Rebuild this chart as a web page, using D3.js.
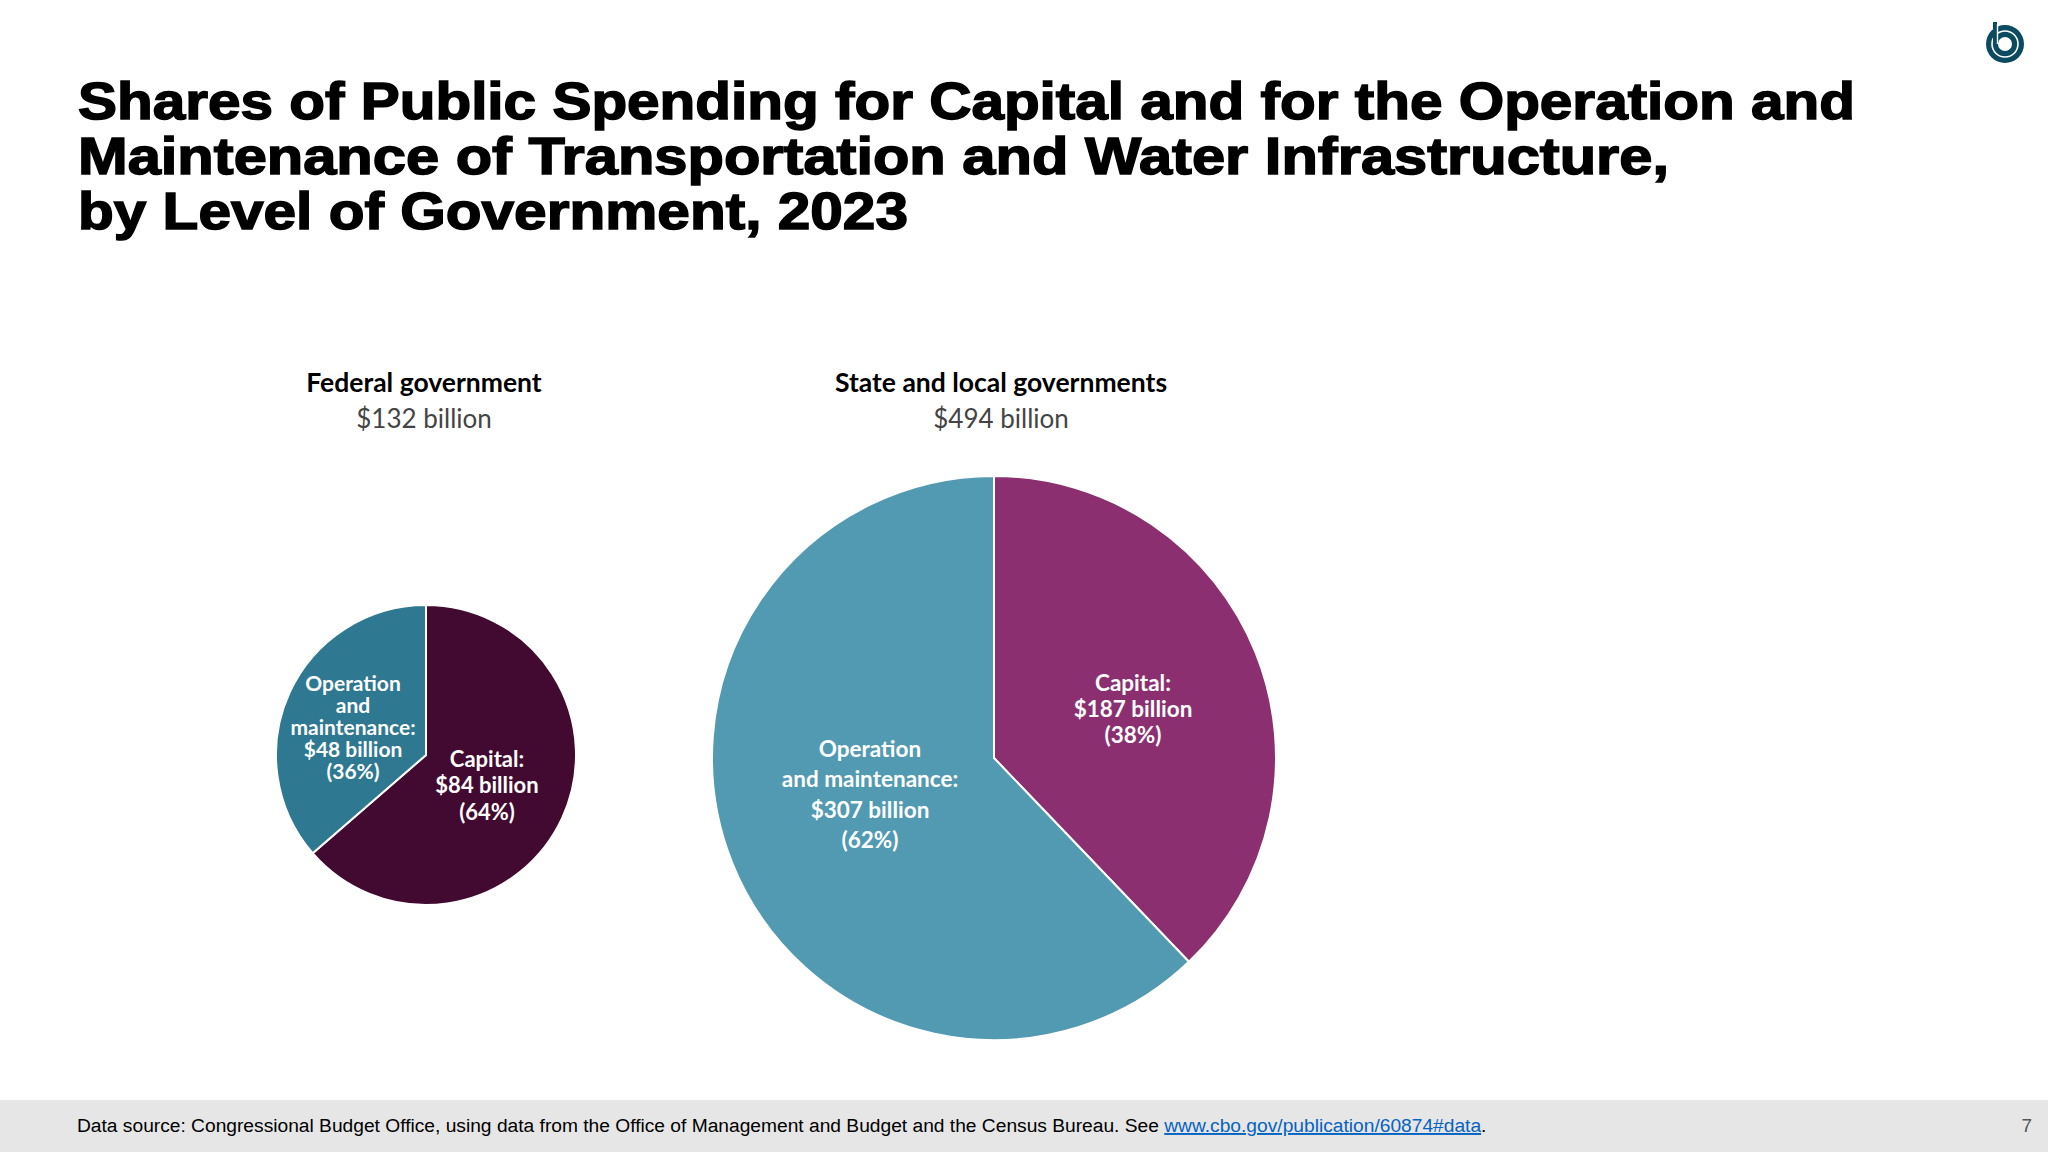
<!DOCTYPE html>
<html lang="en">
<head>
  <meta charset="UTF-8">
  <title>Shares of Public Spending, 2023</title>
  <style>
    body { margin: 0; background: #fff; }
    svg { display: block; }
  </style>
</head>
<body>
  <svg id="chart"></svg>
  <script src="https://cdn.jsdelivr.net/npm/d3@7"></script>
  <script>
    // data
    const groups = ["Federal government", "State and local governments"];
    const totals = [132, 494];
    const categories = ["Capital", "Operation and maintenance"];
    const capitalValues = [84, 187];
    const omValues = [48, 307];
    const capitalShares = [64, 38];
    const omShares = [36, 62];

    const titleLines = [
      "Shares of Public Spending for Capital and for the Operation and",
      "Maintenance of Transportation and Water Infrastructure,",
      "by Level of Government, 2023"
    ];
    // right edge of each title line on the slide (Arial Black is wider than what we have)
    const titleEnds = [1855, 1669, 908];

    var w = 2048, h = 1152;
    var svg = d3.select("#chart").attr("width", w).attr("height", h);

    // ---- title
    svg.append("g").selectAll("text")
      .data(titleLines)
      .enter()
      .append("text")
        .attr("x", 78)
        .attr("y", (d, i) => 119 + i * 55)
        .attr("font-family", "'Liberation Sans', Arial, sans-serif")
        .attr("font-weight", 700)
        .attr("font-size", 52)
        .attr("fill", "#000")
        .attr("stroke", "#000")
        .attr("stroke-width", 1.5)
        .attr("textLength", (d, i) => titleEnds[i] - 78)
        .attr("lengthAdjust", "spacingAndGlyphs")
        .text(d => d);

    // ---- logo (top right)
    var logo = svg.append("g").attr("transform", "translate(2005,44)");
    logo.append("circle").attr("r", 19).attr("fill", "#0b4a5f");
    logo.append("circle").attr("r", 13).attr("fill", "none").attr("stroke", "#fff").attr("stroke-width", 1.6);
    logo.append("circle").attr("r", 7).attr("fill", "#fff");
    logo.append("line").attr("x1", -10).attr("x2", -10).attr("y1", -22).attr("y2", 0)
      .attr("stroke", "#0b4a5f").attr("stroke-width", 4);
    logo.append("line").attr("x1", -7.5).attr("x2", -7.5).attr("y1", -20).attr("y2", 0)
      .attr("stroke", "#fff").attr("stroke-width", 1.4);

    // ---- pies
    var colors = [
      { Capital: "#420a31", "Operation and maintenance": "#2e7891" },
      { Capital: "#8b2f71", "Operation and maintenance": "#529ab2" }
    ];
    var layout = [
      { cx: 426, cy: 755, r: 150, headY: 392, headX: 424, font: 21,
        labels: {
          Capital: { dx: 61, base: [12, 38, 65], lines: ["Capital:", "$84 billion", "(64%)"], font: 22 },
          "Operation and maintenance": { dx: -73, base: [-64, -42, -20, 2, 24],
            lines: ["Operation", "and", "maintenance:", "$48 billion", "(36%)"] }
        } },
      { cx: 994, cy: 758, r: 282, headY: 392, headX: 1001, font: 22.5,
        labels: {
          Capital: { dx: 139, base: [-67, -41, -15], lines: ["Capital:", "$187 billion", "(38%)"] },
          "Operation and maintenance": { dx: -124, base: [-1, 29, 60, 90],
            lines: ["Operation", "and maintenance:", "$307 billion", "(62%)"] }
        } }
    ];

    var pie = d3.pie().sort(null).value(d => d.value);

    groups.forEach(function(name, gi) {
      var L = layout[gi];
      var slices = [
        { cat: categories[0], value: capitalValues[gi], share: capitalShares[gi] },
        { cat: categories[1], value: omValues[gi], share: omShares[gi] }
      ];
      var arc = d3.arc().innerRadius(0).outerRadius(L.r);
      var g = svg.append("g").attr("transform", `translate(${L.cx},${L.cy})`);

      g.selectAll("path")
        .data(pie(slices))
        .enter()
        .append("path")
          .attr("d", arc)
          .attr("fill", d => colors[gi][d.data.cat])
          .attr("stroke", "#fff")
          .attr("stroke-width", 2);

      slices.forEach(function(s) {
        var lab = L.labels[s.cat];
        g.append("g").selectAll("text")
          .data(lab.lines)
          .enter()
          .append("text")
            .attr("x", lab.dx)
            .attr("y", (d, i) => lab.base[i])
            .attr("text-anchor", "middle")
            .attr("font-family", "Lato, 'Open Sans', sans-serif")
            .attr("font-weight", 700)
            .attr("font-size", lab.font || L.font)
            .attr("fill", "#fff")
            .text(d => d);
      });

      // header
      svg.append("text")
        .attr("x", L.headX).attr("y", L.headY)
        .attr("text-anchor", "middle")
        .attr("font-family", "Lato, sans-serif")
        .attr("font-weight", 700)
        .attr("font-size", 26.5)
        .attr("fill", "#000")
        .text(name);
      svg.append("text")
        .attr("x", L.headX).attr("y", L.headY + 36)
        .attr("text-anchor", "middle")
        .attr("font-family", "Lato, sans-serif")
        .attr("font-size", 26)
        .attr("fill", "#444")
        .text("$" + totals[gi] + " billion");
    });

    // ---- footer band
    svg.append("rect").attr("x", 0).attr("y", 1100).attr("width", w).attr("height", 52).attr("fill", "#e6e6e6");
    var foot = svg.append("text")
      .attr("x", 77).attr("y", 1132)
      .attr("font-family", "'Liberation Sans', Arial, sans-serif")
      .attr("font-size", 19.2)
      .attr("fill", "#000");
    foot.append("tspan").text("Data source: Congressional Budget Office, using data from the Office of Management and Budget and the Census Bureau. See ");
    foot.append("tspan").attr("fill", "#0563c1").attr("text-decoration", "underline").text("www.cbo.gov/publication/60874#data");
    foot.append("tspan").text(".");
    svg.append("text")
      .attr("x", 2032).attr("y", 1132)
      .attr("text-anchor", "end")
      .attr("font-family", "'Liberation Sans', Arial, sans-serif")
      .attr("font-size", 19)
      .attr("fill", "#555")
      .text("7");
  </script>
</body>
</html>
